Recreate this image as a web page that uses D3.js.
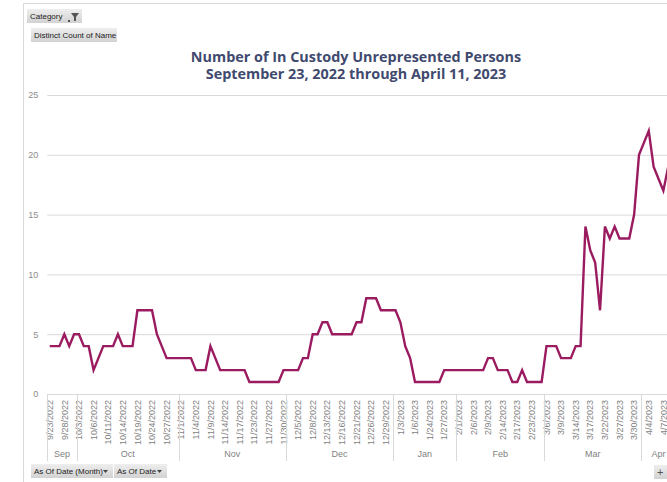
<!DOCTYPE html>
<html>
<head>
<meta charset="utf-8">
<script src="https://cdn.jsdelivr.net/npm/d3@7"></script>
<style>
  body { margin: 0; overflow: hidden; background: #fff; }
  text { font-family: "Liberation Sans", Arial, sans-serif; }
</style>
</head>
<body>
<div id="chart"></div>
<script>
// dates present in the data (business days, a few gaps)
var dates = [
  "9/23/2022","9/26/2022","9/27/2022","9/28/2022","9/29/2022","9/30/2022",
  "10/3/2022","10/4/2022","10/5/2022","10/6/2022","10/7/2022","10/10/2022","10/11/2022","10/12/2022","10/13/2022","10/14/2022",
  "10/17/2022","10/18/2022","10/19/2022","10/20/2022","10/21/2022","10/24/2022","10/25/2022","10/26/2022","10/27/2022","10/28/2022","10/31/2022",
  "11/1/2022","11/2/2022","11/3/2022","11/4/2022","11/7/2022","11/8/2022","11/9/2022","11/10/2022","11/11/2022","11/14/2022","11/15/2022",
  "11/16/2022","11/17/2022","11/18/2022","11/21/2022","11/23/2022","11/24/2022","11/25/2022","11/27/2022","11/28/2022","11/29/2022","11/30/2022",
  "12/1/2022","12/2/2022","12/5/2022","12/6/2022","12/7/2022","12/8/2022","12/9/2022","12/12/2022","12/13/2022","12/14/2022","12/15/2022",
  "12/16/2022","12/19/2022","12/20/2022","12/21/2022","12/22/2022","12/23/2022","12/26/2022","12/27/2022","12/28/2022","12/29/2022","12/30/2022",
  "1/2/2023","1/3/2023","1/4/2023","1/5/2023","1/6/2023","1/20/2023","1/23/2023","1/24/2023","1/25/2023","1/26/2023","1/27/2023","1/30/2023","1/31/2023",
  "2/1/2023","2/2/2023","2/3/2023","2/6/2023","2/7/2023","2/8/2023","2/9/2023","2/10/2023","2/13/2023","2/14/2023","2/15/2023","2/16/2023",
  "2/17/2023","2/21/2023","2/22/2023","2/23/2023","2/27/2023","2/28/2023",
  "3/6/2023","3/7/2023","3/8/2023","3/9/2023","3/10/2023","3/13/2023","3/14/2023","3/15/2023","3/16/2023","3/17/2023","3/20/2023",
  "3/21/2023","3/22/2023","3/23/2023","3/24/2023","3/27/2023","3/28/2023","3/29/2023","3/30/2023","3/31/2023",
  "4/3/2023","4/4/2023","4/5/2023","4/6/2023","4/7/2023","4/10/2023","4/11/2023"
];

// distinct count of name per date
var counts = [
  4,4,4,5,4,5,
  5,4,4,2,3,4,4,4,5,4,4,4,7,7,7,7,5,4,3,3,3,
  3,3,3,2,2,2,4,3,2,2,2,2,2,2,1,1,1,1,1,1,1,2,
  2,2,2,3,3,5,5,6,6,5,5,5,5,5,6,6,8,8,8,7,7,7,
  7,6,4,3,1,1,1,1,1,1,2,2,2,
  2,2,2,2,2,2,3,3,2,2,2,1,1,2,1,1,1,1,
  4,4,4,3,3,3,4,4,14,12,11,7,14,13,14,13,13,13,15,20,
  21,22,19,18,17,19,19
];

var monthNames = {"9":"Sep","10":"Oct","11":"Nov","12":"Dec","1":"Jan","2":"Feb","3":"Mar","4":"Apr"};
var yTicks = [0, 5, 10, 15, 20, 25];
var titleLines = ["Number of In Custody Unrepresented Persons", "September 23, 2022 through April 11, 2023"];

var W = 700, H = 482;
var plotLeft = 47.3, step = 4.87;
var plotTop = 95, plotBottom = 394;

var svg = d3.select("#chart").append("svg")
    .attr("width", W)
    .attr("height", H);

// frame of the pivot chart
svg.append("path")
    .attr("d", "M23.5," + H + "V3.5H" + W)
    .attr("fill", "none")
    .attr("stroke", "#d9d9d9");

var x = d3.scaleBand()
    .domain(dates)
    .range([plotLeft, plotLeft + dates.length * step])
    .padding(0);

var y = d3.scaleLinear()
    .domain([0, 25])
    .range([plotBottom, plotTop]);

// gridlines + y labels
var yAxis = svg.append("g")
    .attr("transform", "translate(" + plotLeft + ",0)")
    .call(d3.axisLeft(y).tickValues(yTicks).tickSize(-(W - plotLeft)).tickPadding(9));
yAxis.select(".domain").remove();
yAxis.selectAll("line").attr("stroke", "#d9d9d9");
yAxis.selectAll("text")
    .attr("fill", "#8c8c8c")
    .style("font-size", "9px");

// x axis with date labels every 3rd category
var xAxis = svg.append("g")
    .attr("transform", "translate(0," + plotBottom + ")")
    .call(d3.axisBottom(x)
        .tickValues(dates.filter(function(d, i) { return i % 3 === 0; }))
        .tickSize(0));
xAxis.select(".domain").attr("stroke", "#d9d9d9");
xAxis.selectAll("text")
    .attr("transform", "rotate(-90)")
    .attr("x", -6)
    .attr("y", 0)
    .attr("dy", "0.35em")
    .style("text-anchor", "end")
    .attr("fill", "#7f7f7f")
    .style("font-size", "9px");

// month groups
var groups = [];
dates.forEach(function(d, i) {
    var m = d.split("/")[0];
    if (groups.length === 0 || groups[groups.length - 1].m !== m) {
        groups.push({m: m, first: d, last: d});
    } else {
        groups[groups.length - 1].last = d;
    }
});

var mg = svg.append("g");
mg.selectAll("line.sep")
    .data(groups)
    .enter()
    .append("line")
    .attr("x1", function(g) { return Math.round(x(g.first)) + 0.5; })
    .attr("x2", function(g) { return Math.round(x(g.first)) + 0.5; })
    .attr("y1", plotBottom)
    .attr("y2", 461)
    .attr("stroke", "#d9d9d9");
mg.selectAll("text")
    .data(groups)
    .enter()
    .append("text")
    .attr("x", function(g) { return (x(g.first) + x(g.last) + x.bandwidth()) / 2; })
    .attr("y", 457)
    .attr("text-anchor", "middle")
    .attr("fill", "#7f7f7f")
    .style("font-size", "9px")
    .text(function(g) { return monthNames[g.m]; });

// the line
var line = d3.line()
    .x(function(d, i) { return x(dates[i]) + x.bandwidth() / 2; })
    .y(function(d) { return y(d); });

svg.append("path")
    .datum(counts)
    .attr("d", line)
    .attr("fill", "none")
    .attr("stroke", "#9b1b60")
    .attr("stroke-width", 2.4)
    .attr("stroke-linejoin", "miter");

// title
svg.selectAll("text.title")
    .data(titleLines)
    .enter()
    .append("text")
    .attr("class", "title")
    .attr("x", 356)
    .attr("y", function(d, i) { return 62 + i * 17; })
    .attr("text-anchor", "middle")
    .attr("fill", "#3f4a6e")
    .style("font-family", "'Open Sans', sans-serif")
    .style("font-weight", "bold")
    .style("font-size", "14.4px")
    .text(function(d) { return d; });

// pivot field buttons
var defs = svg.append("defs");
var grad = defs.append("linearGradient")
    .attr("id", "btn")
    .attr("x1", 0).attr("y1", 0).attr("x2", 0).attr("y2", 1);
grad.append("stop").attr("offset", 0).attr("stop-color", "#eeeeee");
grad.append("stop").attr("offset", 1).attr("stop-color", "#d2d2d2");

function button(bx, by, bw, label, arrow) {
    var g = svg.append("g").attr("transform", "translate(" + bx + "," + by + ")");
    g.append("rect")
        .attr("width", bw).attr("height", 14)
        .attr("fill", "url(#btn)");
    g.append("text")
        .attr("x", 3).attr("y", 10)
        .attr("fill", "#222")
        .style("font-size", "8px")
        .text(label);
    if (arrow) {
        g.append("path")
            .attr("d", "M" + (bw - 10) + ",6h5l-2.5,3z")
            .attr("fill", "#444");
    }
    return g;
}

var cat = button(27, 9, 55, "Category", false);
cat.append("path").attr("d", "M41,11h2v2h-2z").attr("fill", "#555");
cat.append("path").attr("d", "M44,4h8l-3,4v4h-2v-4z").attr("fill", "#555");
button(31, 28, 86, "Distinct Count of Name", false);
button(31, 464, 82, "As Of Date (Month)", true);
button(114, 464, 53, "As Of Date", true);

var plus = button(654, 465, 14, "", false);
plus.append("text").attr("x", 3).attr("y", 11).attr("fill", "#555").style("font-size", "11px").text("+");
</script>
</body>
</html>
